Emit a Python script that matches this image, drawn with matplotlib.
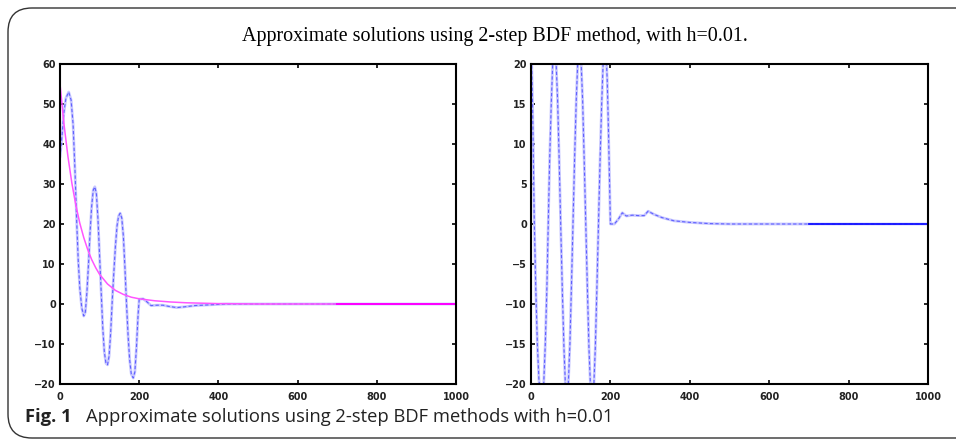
import numpy as np
import matplotlib.pyplot as plt
from matplotlib.patches import FancyBboxPatch

# left panel, blue solution
left_x = [0, 5, 10, 15, 22, 28, 33, 38, 42, 46, 50, 55, 60, 64, 68, 72, 76, 80, 84, 88,
          92, 96, 100, 104, 108, 112, 116, 120, 124, 128, 132, 136, 140, 144, 148, 152,
          156, 160, 164, 168, 172, 176, 180, 185, 189, 193, 197, 200, 210, 220, 230,
          245, 260, 275, 295, 315, 340, 380, 420, 700, 1000]
left_y = [36.7, 42, 48, 51.5, 53, 51, 45, 33, 21, 11, 4, -1, -3, -2, 3, 10, 18, 24.5, 28.5, 29.3,
          27.5, 21, 12, 3, -6, -12, -14.8, -15.2, -13, -7, 1, 8, 14.5, 19.5, 22, 22.7,
          21.5, 17, 9, 0, -8, -14, -17.5, -18.5, -17, -11, -3, 1.2, 1.3, 0.5, -0.4,
          -0.3, -0.3, -0.6, -0.9, -0.7, -0.4, -0.2, 0, 0, 0]

# left panel, magenta reference curve
ref_x = [0, 10, 20, 30, 40, 50, 60, 70, 80, 90, 100, 120, 140, 160, 180, 200, 240, 280,
         320, 400, 500, 700, 1000]
ref_y = [55, 45, 36.9, 30.2, 24.7, 20.2, 16.6, 13.6, 11.1, 9.1, 7.4, 5.0, 3.4, 2.4, 1.7,
         1.3, 0.8, 0.5, 0.3, 0.1, 0, 0, 0]

# right panel, blue solution (clipped at +-20)
right_x = [0, 4, 8, 12, 16, 20, 26, 32, 36, 40, 43, 47, 51, 55, 59, 63, 67, 71, 75, 79,
           83, 87, 90, 94, 98, 102, 106, 110, 114, 118, 122, 126, 130, 134, 138, 142, 146,
           150, 154, 158, 162, 166, 170, 174, 178, 182, 185, 189, 192, 195, 198, 200, 210,
           220, 230, 240, 255, 270, 285, 295, 310, 330, 360, 400, 450, 500, 700, 1000]
right_y = [24, 15, 1, -8, -15, -19.5, -22, -20, -15, -8, -1, 8, 15, 20.5, 22, 20.5, 15.5, 8,
           -0.5, -8.5, -15.5, -20.5, -22, -20, -15, -7.5, 0.5, 8.5, 15.5, 20.5, 22, 20.5,
           15.5, 8, 0, -8, -15.5, -20.5, -22, -20.5, -15.5, -8, 0, 8, 15, 20.5, 22, 21.5,
           18, 12, 5, 0, 0, 0.6, 1.4, 1.0, 1.1, 1.05, 1.05, 1.6, 1.2, 0.8, 0.4, 0.2, 0.05,
           0, 0, 0]

left_yticks = [-20, -10, 0, 10, 20, 30, 40, 50, 60]
right_yticks = [-20, -15, -10, -5, 0, 5, 10, 15, 20]
xticks = [0, 200, 400, 600, 800, 1000]

W, H = 956, 440
fig = plt.figure(figsize=(W / 100, H / 100), dpi=100)


def box(l, t, r, b):
    return [l / W, 1 - b / H, (r - l) / W, (b - t) / H]


def blue_line(ax, x, y):
    x = np.array(x)
    y = np.array(y)
    ax.plot(x, y, color='#c8c8ff', lw=2.0, solid_capstyle='round')
    ax.plot(x, y, color='#6060ff', lw=0.8, ls=(0, (3, 2)))
    tail = x >= 700
    ax.plot(x[tail], y[tail], color='#1010ff', lw=1.3)


def style(ax, yticks):
    ax.set_xlim(0, 1000)
    ax.set_ylim(yticks[0], yticks[-1])
    ax.set_xticks(xticks)
    ax.set_yticks(yticks)
    ax.tick_params(direction='in', length=3, width=1.2, top=True, right=True,
                   labelsize=7, labelcolor='#222222')
    ax.tick_params(axis='x', pad=6)
    ax.tick_params(axis='y', pad=3)
    for lab in ax.get_xticklabels() + ax.get_yticklabels():
        lab.set_fontweight('bold')
    for s in ax.spines.values():
        s.set_linewidth(1.5)


ax1 = fig.add_axes(box(60, 64, 456, 384))
blue_line(ax1, left_x, left_y)
rx = np.array(ref_x)
ry = np.array(ref_y)
ax1.plot(rx, ry, color='#ff55ff', lw=1.1)
ax1.plot(rx[rx >= 700], ry[rx >= 700], color='#ff00ff', lw=1.4)
style(ax1, left_yticks)

ax2 = fig.add_axes(box(531, 64, 928, 384))
blue_line(ax2, right_x, right_y)
style(ax2, right_yticks)

# rounded frame around the figure
frame = FancyBboxPatch((8 / W, 2 / H), 1.2, (432 - 2) / H,
                       boxstyle='round,pad=0,rounding_size=0.025',
                       transform=fig.transFigure, fill=False, lw=1.0,
                       edgecolor='#333333', mutation_aspect=W / H)
fig.patches.append(frame)

fig.text(495 / W, 1 - 41 / H, 'Approximate solutions using 2-step BDF method, with h=0.01.',
         ha='center', va='baseline', fontsize=14.4, family='Liberation Serif')
fig.text(25 / W, 1 - 422 / H, 'Fig. 1', ha='left', va='baseline', fontsize=13.2,
         fontweight='bold', family='Open Sans', color='#222222')
fig.text(86 / W, 1 - 422 / H, 'Approximate solutions using 2-step BDF methods with h=0.01',
         ha='left', va='baseline', fontsize=13.2, family='Open Sans', color='#222222')

fig.savefig('out.png', dpi=100)
